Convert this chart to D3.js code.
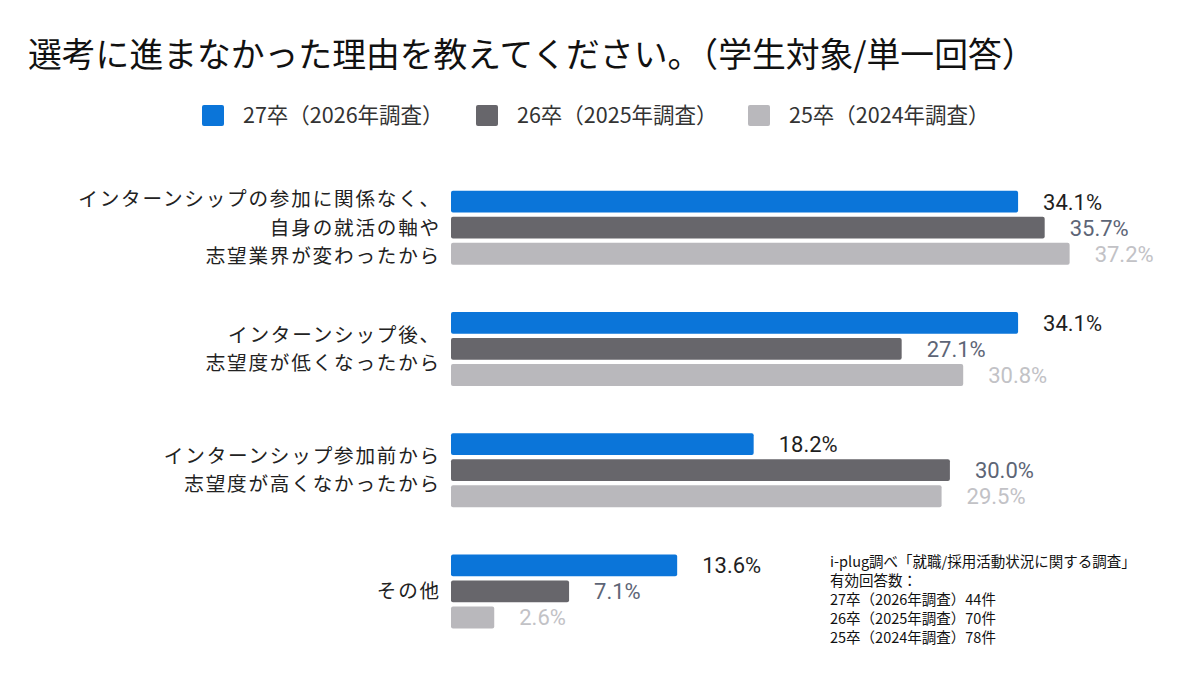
<!DOCTYPE html>
<html>
<head>
<meta charset="utf-8">
<script src="https://cdn.jsdelivr.net/npm/d3@7"></script>
<style>
  body { margin: 0; background: #fff; }
  svg text { font-family: "Noto Sans CJK JP", "Noto Sans", sans-serif; }
  svg text.val { font-family: Roboto, "Noto Sans", sans-serif; }
</style>
</head>
<body>
<div id="chart"></div>
<script>
const categories = [
  ["インターンシップの参加に関係なく、", "自身の就活の軸や", "志望業界が変わったから"],
  ["インターンシップ後、", "志望度が低くなったから"],
  ["インターンシップ参加前から", "志望度が高くなかったから"],
  ["その他"]
];
const seriesNames = ["27卒（2026年調査）", "26卒（2025年調査）", "25卒（2024年調査）"];
const values27 = [34.1, 34.1, 18.2, 13.6];
const values26 = [35.7, 27.1, 30.0, 7.1];
const values25 = [37.2, 30.8, 29.5, 2.6];
const noteLines = [
  "i-plug調べ「就職/採用活動状況に関する調査」",
  "有効回答数：",
  "27卒（2026年調査）44件",
  "26卒（2025年調査）70件",
  "25卒（2024年調査）78件"
];

const width = 1200, height = 680;
const barColors = ["#0b75d9", "#67666b", "#b9b8bc"];
const labelColors = ["#1f1f1f", "#5d6576", "#c2c2c6"];
const allValues = [values27, values26, values25];

const svg = d3.select("#chart").append("svg")
  .attr("width", width).attr("height", height);

// title
svg.append("text")
  .attr("x", 28).attr("y", 67)
  .attr("font-size", 33.8)
  .attr("fill", "#111")
  .text("選考に進まなかった理由を教えてください。（学生対象/単一回答）");

// legend
const legendX = [202, 476, 748];
seriesNames.forEach((name, i) => {
  svg.append("rect")
    .attr("x", legendX[i]).attr("y", 105)
    .attr("width", 22).attr("height", 21).attr("rx", 2)
    .attr("fill", barColors[i]);
  svg.append("text")
    .attr("x", legendX[i] + 41).attr("y", 123)
    .attr("font-size", 21.5)
    .attr("fill", "#333")
    .text(name);
});

const x = d3.scaleLinear().domain([0, 40]).range([451, 451 + 16.63 * 40]);
const y = d3.scaleBand().domain(d3.range(categories.length)).range([167, 652]);
const ySub = d3.scaleBand().domain(d3.range(3)).range([-37, 37]).paddingInner(0.154);

const groups = svg.selectAll("g.grp")
  .data(categories)
  .enter().append("g")
  .attr("class", "grp")
  .attr("transform", (d, i) => `translate(0,${y(i) + y.bandwidth() / 2})`);

groups.each(function(lines, gi) {
  const g = d3.select(this);
  allValues.forEach((vals, si) => {
    g.append("rect")
      .attr("x", x(0))
      .attr("y", ySub(si))
      .attr("width", x(vals[gi]) - x(0))
      .attr("height", ySub.bandwidth())
      .attr("rx", 2)
      .attr("fill", barColors[si]);
    g.append("text")
      .attr("class", "val")
      .attr("x", x(vals[gi]) + 25)
      .attr("y", ySub(si) + ySub.bandwidth() / 2)
      .attr("dy", "0.36em")
      .attr("font-size", 22)
      .attr("fill", labelColors[si])
      .text(vals[gi].toFixed(1) + "%");
  });
  // category label, slightly letter-spaced so lines keep the reference width
  const lh = 28.5;
  const t = g.append("text")
    .attr("text-anchor", "end")
    .attr("font-size", 19.6)
    .attr("letter-spacing", 1.8)
    .attr("fill", "#222");
  lines.forEach((ln, li) => {
    t.append("tspan")
      .attr("x", 441)
      .attr("y", (li - (lines.length - 1) / 2) * lh)
      .attr("dy", "0.36em")
      .text(ln);
  });
});

// source note
svg.append("text")
  .attr("font-size", 14.5)
  .attr("fill", "#111")
  .selectAll("tspan")
  .data(noteLines)
  .enter().append("tspan")
  .attr("x", 830)
  .attr("y", (d, i) => 567 + i * 19)
  .text(d => d);
</script>
</body>
</html>
